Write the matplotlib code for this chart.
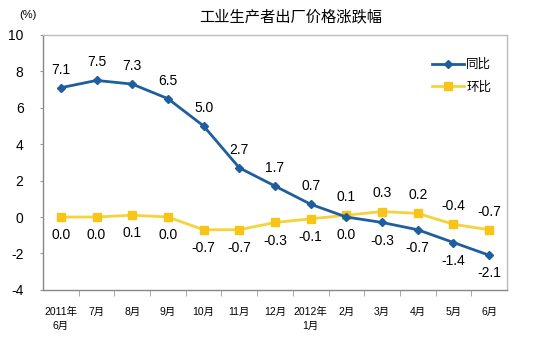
import matplotlib
matplotlib.use("Agg")
import matplotlib.pyplot as plt
import numpy as np

plt.rcParams['font.family'] = ['Liberation Sans', 'Noto Sans CJK SC', 'DejaVu Sans']
plt.rcParams['axes.unicode_minus'] = False

months = ["2011年\n6月", "7月", "8月", "9月", "10月", "11月", "12月",
          "2012年\n1月", "2月", "3月", "4月", "5月", "6月"]
yoy = [7.1, 7.5, 7.3, 6.5, 5.0, 2.7, 1.7, 0.7, 0.0, -0.3, -0.7, -1.4, -2.1]
mom = [0.0, 0.0, 0.1, 0.0, -0.7, -0.7, -0.3, -0.1, 0.1, 0.3, 0.2, -0.4, -0.7]
# label side: 1 above, -1 below
yoy_side = [1, 1, 1, 1, 1, 1, 1, 1, -1, -1, -1, -1, -1]
mom_side = [-1, -1, -1, -1, -1, -1, -1, -1, 1, 1, 1, 1, 1]

blue = "#1F5E9E"
yellow_line = "#F5D33A"
yellow_mark = "#F7C518"

fig = plt.figure(figsize=(5.44, 3.39), dpi=100)
ax = fig.add_axes([0.079, 0.145, 0.853, 0.752])

x = np.arange(len(months))
ax.plot(x, yoy, color=blue, lw=2, marker="D", ms=4.5, label="同比", zorder=3)
ax.plot(x, mom, color=yellow_line, lw=2, marker="s", ms=6,
        mfc=yellow_mark, mec=yellow_mark, label="环比", zorder=2)

for i in range(len(x)):
    ax.annotate(f"{yoy[i]:.1f}", (x[i], yoy[i]), xytext=(0, 13 * yoy_side[i]),
                textcoords="offset points", ha="center", va="center", fontsize=10)
    ax.annotate(f"{mom[i]:.1f}", (x[i], mom[i]), xytext=(0, 13 * mom_side[i]),
                textcoords="offset points", ha="center", va="center", fontsize=10)

ax.set_xlim(-0.5, len(months) - 0.5)
ax.set_ylim(-4, 10)
ax.set_yticks(np.arange(-4, 11, 2))
ax.tick_params(axis="y", length=2, color="#999999", labelsize=10, pad=12)
ax.set_xticks(x)
ax.set_xticklabels(months, fontsize=7.5, linespacing=1.6)
ax.tick_params(axis="x", which="major", length=0, pad=12)
ax.set_xticks(np.arange(0.5, len(months) - 0.5, 1), minor=True)
ax.tick_params(axis="x", which="minor", length=4, color="#999999", direction="out")
for s in ax.spines.values():
    s.set_color("#BBBBBB")
    s.set_linewidth(1)
ax.spines["left"].set_color("#888888")
ax.spines["bottom"].set_color("#888888")

ax.legend(loc="upper right", bbox_to_anchor=(0.99, 0.95), frameon=False,
          fontsize=9, handlelength=2.5, handletextpad=0.2, labelspacing=0.8)

fig.text(0.535, 0.95, "工业生产者出厂价格涨跌幅", ha="center", va="center", fontsize=11)
fig.text(0.052, 0.955, "(%)", ha="center", va="center", fontsize=8)

fig.savefig("out.png", dpi=100)
